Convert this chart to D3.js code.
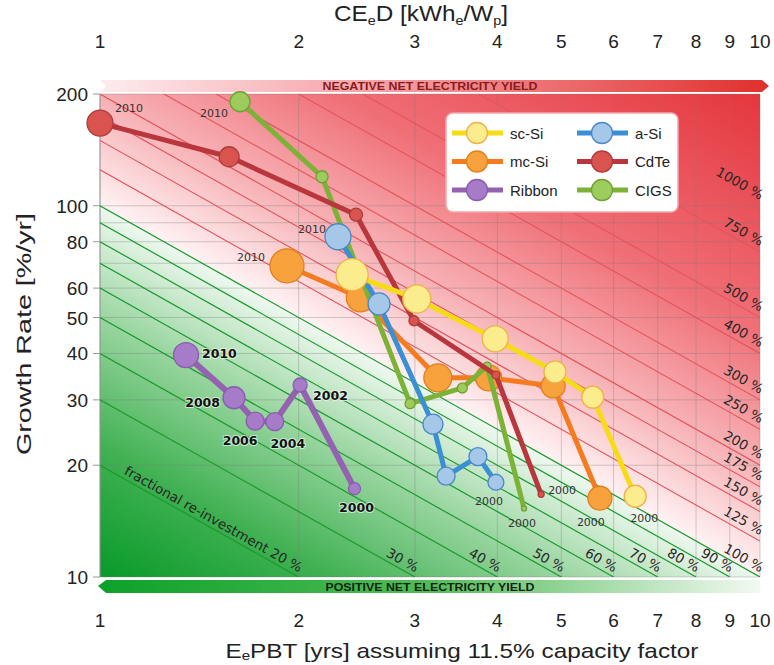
<!DOCTYPE html>
<html><head><meta charset="utf-8">
<script src="https://cdn.jsdelivr.net/npm/d3@7"></script>
<style>
body{margin:0;background:#fff}
svg{display:block}
text{font-family:"Liberation Sans",Arial,sans-serif}
text.dj{font-family:"DejaVu Sans",sans-serif}
</style>
</head><body>
<svg id="c" width="774" height="665"></svg>
<script>
// ---------- data ----------
const xTicks = [1,2,3,4,5,6,7,8,9,10];
const yTicks = [10,20,30,40,50,60,80,100,200];
const yGrid  = [10,20,30,40,50,60,70,80,90,100,200];
const greenLevels = [20,30,40,50,60,70,80,90,100];
const redLevels = [125,150,175,200,250,300,400,500,750,1000];
const years = [2010,2008,2006,2004,2002,2000];

// EePBT [yrs], growth rate [%/yr], relative production weight (2010 -> 2000)
const scSiEPBT   = [2.41,3.02,3.97,4.89,5.58,6.47];
const scSiGrowth = [65.2,56.1,43.8,35.7,30.5,16.5];
const scSiWeight = [88.6,67.8,58.5,41.9,41.9,41.9];

const mcSiEPBT   = [1.92,2.48,3.25,3.88,4.86,5.72];
const mcSiGrowth = [68.9,56.5,34.4,34.4,32.7,16.3];
const mcSiWeight = [100,67.8,67.8,58.5,49.8,49.8];

const ribbonEPBT   = [1.35,1.596,1.718,1.84,2.01,2.43];
const ribbonGrowth = [39.6,30.4,26.3,26.2,32.9,17.3];
const ribbonWeight = [54,41.9,28,28,17,12.5];

const aSiEPBT   = [2.294,2.647,3.195,3.345,3.738,3.98];
const aSiGrowth = [82.5,54.4,25.8,18.7,21.1,18.0];
const aSiWeight = [58.5,41.9,34.6,28,28,22];

const cdteEPBT   = [1.0,1.569,2.443,2.99,3.98,4.66];
const cdteGrowth = [167,135.5,94.6,49,35,16.7];
const cdteWeight = [58.5,34.6,14.6,8.7,5.5,3.1];

const cigsEPBT   = [1.63,2.17,2.95,3.54,3.86,4.39];
const cigsGrowth = [190.6,119.7,29.3,32.3,37,15.3];
const cigsWeight = [34.6,12.5,8.7,8.7,5.5,2.2];

// ---------- styles ----------
const styles = {
  "sc-Si": {line:"#f6dc16", fill:"#fbec8e", stroke:"#f0b04a"},
  "mc-Si": {line:"#f47b20", fill:"#f7a23c", stroke:"#e07f1e"},
  "Ribbon":{line:"#9462b0", fill:"#a67cc8", stroke:"#8a5cae"},
  "a-Si":  {line:"#3b8fd4", fill:"#a5c7e8", stroke:"#4a88c8"},
  "CdTe":  {line:"#b8363c", fill:"#d9534f", stroke:"#b03a3a"},
  "CIGS":  {line:"#7cb236", fill:"#9dcb5c", stroke:"#6fa035"}
};
function build(name,E,G,Wt){ return {name, pts:E.map((e,i)=>({E:e,G:G[i],w:Wt[i],year:years[i]}))}; }
const series = {
  "sc-Si": build("sc-Si",scSiEPBT,scSiGrowth,scSiWeight),
  "mc-Si": build("mc-Si",mcSiEPBT,mcSiGrowth,mcSiWeight),
  "Ribbon":build("Ribbon",ribbonEPBT,ribbonGrowth,ribbonWeight),
  "a-Si":  build("a-Si",aSiEPBT,aSiGrowth,aSiWeight),
  "CdTe":  build("CdTe",cdteEPBT,cdteGrowth,cdteWeight),
  "CIGS":  build("CIGS",cigsEPBT,cigsGrowth,cigsWeight)
};
const drawOrder = ["mc-Si","CIGS","CdTe","a-Si","sc-Si","Ribbon"];

const svg = d3.select("#c");
const x = d3.scaleLog().domain([1,10]).range([100,760]);
const y = d3.scaleLog().domain([10,200]).range([577,94]);
const r = d3.scaleSqrt().domain([0,100]).range([0,17]);
const [X0,X1] = x.range(), [YB,YT] = y.range();
const defs = svg.append("defs");

defs.append("clipPath").attr("id","plotclip").append("rect")
  .attr("x",X0).attr("y",YT).attr("width",X1-X0).attr("height",YB-YT);

// 100% line geometry
const pA=[x(1),y(100)], pB=[x(10),y(10)];
const ddx=pB[0]-pA[0], ddy=pB[1]-pA[1], LL=Math.hypot(ddx,ddy);
const nx=ddy/LL, ny=-ddx/LL;
const angle = Math.atan2(ddy,ddx)*180/Math.PI;
function foot(p){const t=(p[0]-pA[0])*nx+(p[1]-pA[1])*ny; return [p[0]-t*nx,p[1]-t*ny];}

const gg = foot([X0,YB]);
const gGrad = defs.append("linearGradient").attr("id","gGrad").attr("gradientUnits","userSpaceOnUse")
  .attr("x1",X0).attr("y1",YB).attr("x2",gg[0]).attr("y2",gg[1]);
[[0,"#089a28"],[0.35,"#40b152"],[0.7,"#98d59f"],[1,"#eef8ef"]].forEach(s=>gGrad.append("stop").attr("offset",s[0]).attr("stop-color",s[1]));
const rg = foot([X1,YT]);
const rGrad = defs.append("linearGradient").attr("id","rGrad").attr("gradientUnits","userSpaceOnUse")
  .attr("x1",rg[0]).attr("y1",rg[1]).attr("x2",X1).attr("y2",YT);
[[0,"#fff3f4"],[0.22,"#f7b3b7"],[0.5,"#f07078"],[1,"#e5363d"]].forEach(s=>rGrad.append("stop").attr("offset",s[0]).attr("stop-color",s[1]));

svg.append("path").attr("d",`M${X0},${YT}L${X1},${YT}L${X1},${YB}L${pA[0]},${pA[1]}Z`).attr("fill","url(#rGrad)");
svg.append("path").attr("d",`M${pA[0]},${pA[1]}L${pB[0]},${pB[1]}L${X0},${YB}Z`).attr("fill","url(#gGrad)");

// grid
const grid = svg.append("g").attr("stroke","#7a7a7a").attr("stroke-opacity",0.35).attr("stroke-width",1);
xTicks.forEach(v=>grid.append("line").attr("x1",x(v)).attr("x2",x(v)).attr("y1",YT).attr("y2",YB));
yGrid.forEach(v=>grid.append("line").attr("x1",X0).attr("x2",X1).attr("y1",y(v)).attr("y2",y(v)));
svg.append("line").attr("x1",X0).attr("x2",X0).attr("y1",YT).attr("y2",YB).attr("stroke","#9a9a9a").attr("stroke-width",1);
const tk = svg.append("g").attr("stroke","#999");
yTicks.forEach(v=>tk.append("line").attr("x1",X0-7).attr("x2",X0).attr("y1",y(v)).attr("y2",y(v)));

// iso re-investment lines
const lineGen = d3.line().x(d=>x(d[0])).y(d=>y(d[1]));
const iso = svg.append("g").attr("clip-path","url(#plotclip)").attr("fill","none");
function isoPts(f){const e0=Math.max(1,f/200), e1=Math.min(10,f/10); return [[e0,f/e0],[e1,f/e1]];}
greenLevels.forEach(f=>iso.append("path").attr("d",lineGen(isoPts(f))).attr("stroke","#1a9a2c").attr("stroke-width",1.2));
redLevels.forEach(f=>iso.append("path").attr("d",lineGen(isoPts(f))).attr("stroke","#e4545c").attr("stroke-width",1.1));

// iso labels
const lab = svg.append("g");
function diagLabel(E,G,txt,ox,oy){
  lab.append("text").attr("class","dj").attr("font-size",13.5).attr("fill","#262626")
    .attr("transform",`translate(${x(E)},${y(G)}) rotate(${angle})`)
    .attr("x",ox).attr("y",oy).attr("text-anchor","end").text(txt);
}
greenLevels.forEach(f=>{
  const txt = f===20 ? "fractional re-investment 20 %" : f+" %";
  diagLabel(f/10,10,txt,-2,-4);
});
redLevels.forEach(f=>diagLabel(10,f/10,f+" %",-3,-5));

// banners
const tG = defs.append("linearGradient").attr("id","tG");
[[0,"#fdecee"],[0.45,"#f59aa0"],[1,"#e0302c"]].forEach(s=>tG.append("stop").attr("offset",s[0]).attr("stop-color",s[1]));
const bG = defs.append("linearGradient").attr("id","bG");
[[0,"#0ca12a"],[0.5,"#52bb58"],[1,"#f2f9f2"]].forEach(s=>bG.append("stop").attr("offset",s[0]).attr("stop-color",s[1]));
svg.append("path").attr("d",`M${X0},80L${X1+2},80L${X1+9},86L${X1+2},92L${X0},92L${X0+6},86Z`).attr("fill","url(#tG)");
svg.append("path").attr("d",`M${X0-2},586L${X0+6},580L${X1},580L${X1},593L${X0+6},593Z`).attr("fill","url(#bG)");
svg.append("text").attr("x",430).attr("y",90).attr("text-anchor","middle").attr("font-weight","bold")
  .attr("font-size",11).attr("fill","#8a1a1c").attr("textLength",215).attr("lengthAdjust","spacingAndGlyphs")
  .text("NEGATIVE NET ELECTRICITY YIELD");
svg.append("text").attr("x",430).attr("y",591).attr("text-anchor","middle").attr("font-weight","bold")
  .attr("font-size",11).attr("fill","#142414").attr("textLength",209).attr("lengthAdjust","spacingAndGlyphs")
  .text("POSITIVE NET ELECTRICITY YIELD");

// axes tick labels
const ax = svg.append("g").attr("font-size",19).attr("fill","#222");
xTicks.forEach(v=>{
  ax.append("text").attr("x",x(v)).attr("y",48).attr("text-anchor","middle").text(v);
  ax.append("text").attr("x",x(v)).attr("y",627).attr("text-anchor","middle").text(v);
});
yTicks.forEach(v=>ax.append("text").attr("x",88).attr("y",y(v)+7).attr("text-anchor","end").text(v));

// titles
const t1 = svg.append("text").attr("x",421).attr("y",21).attr("text-anchor","middle").attr("font-size",22).attr("fill","#222")
  .attr("textLength",174).attr("lengthAdjust","spacingAndGlyphs");
t1.append("tspan").text("CE");
t1.append("tspan").attr("font-size",13).attr("dy",4).text("e");
t1.append("tspan").attr("dy",-4).text("D [kWh");
t1.append("tspan").attr("font-size",13).attr("dy",4).text("e");
t1.append("tspan").attr("dy",-4).text("/W");
t1.append("tspan").attr("font-size",13).attr("dy",4).text("p");
t1.append("tspan").attr("dy",-4).text("]");

const t2 = svg.append("text").attr("x",462).attr("y",658).attr("text-anchor","middle").attr("font-size",21).attr("fill","#222")
  .attr("textLength",473).attr("lengthAdjust","spacingAndGlyphs");
t2.append("tspan").text("E");
t2.append("tspan").attr("font-size",13).attr("dy",2).text("e");
t2.append("tspan").attr("dy",-2).text("PBT [yrs] assuming 11.5% capacity factor");

svg.append("text").attr("transform","translate(31,334) rotate(-90)").attr("text-anchor","middle")
  .attr("font-size",21).attr("fill","#222").attr("textLength",242).attr("lengthAdjust","spacingAndGlyphs")
  .text("Growth Rate [%/yr]");

// data series
const dataG = svg.append("g");
const lineXY = d3.line().x(d=>x(d.E)).y(d=>y(d.G));
drawOrder.forEach(n=>{
  const s=series[n], st=styles[n];
  const g=dataG.append("g");
  g.append("path").attr("d",lineXY(s.pts)).attr("fill","none").attr("stroke",st.line)
    .attr("stroke-width",n==="Ribbon"?6:5).attr("stroke-linejoin","round");
  g.selectAll("circle").data(s.pts).join("circle")
    .attr("cx",d=>x(d.E)).attr("cy",d=>y(d.G)).attr("r",d=>r(d.w))
    .attr("fill",st.fill).attr("stroke",st.stroke).attr("stroke-width",1.3);
});

// year labels (offsets from the marker)
const yearLabelOffsets = {
  "CdTe":  {2010:[15,-11,"start"],2000:[7,0,"start"]},
  "CIGS":  {2010:[-12,15,"end"],2000:[-2,19,"middle"]},
  "a-Si":  {2010:[-12,-4,"end"],2000:[-7,23,"middle"]},
  "mc-Si": {2010:[-22,-5,"end"],2000:[-9,28,"middle"]},
  "sc-Si": {2000:[9,26,"middle"]},
  "Ribbon":{2010:[16,3,"start"],2008:[-14,9,"end"],2006:[-15,24,"middle"],2004:[13,26,"middle"],2002:[13,15,"start"],2000:[2,23,"middle"]}
};
const yl = svg.append("g");
Object.keys(yearLabelOffsets).forEach(n=>{
  const offs = yearLabelOffsets[n];
  series[n].pts.forEach(p=>{
    const o = offs[p.year]; if(!o) return;
    const t = yl.append("text").attr("class","dj").attr("x",x(p.E)+o[0]).attr("y",y(p.G)+o[1]).attr("text-anchor",o[2]).text(p.year);
    if(n==="Ribbon"){
      t.attr("font-size",12.5).attr("font-weight","bold").attr("fill","#111")
       .attr("stroke","rgba(255,255,255,0.6)").attr("stroke-width",2).attr("paint-order","stroke");
    } else {
      t.attr("font-size",11).attr("fill","#333");
    }
  });
});

// legend
const lg = svg.append("g");
lg.append("rect").attr("x",446).attr("y",113).attr("width",232).attr("height",99).attr("rx",7)
  .attr("fill","#fff").attr("stroke","#f2a8ac").attr("stroke-width",1.5);
const legendLayout = [["sc-Si","a-Si"],["mc-Si","CdTe"],["Ribbon","CIGS"]];
legendLayout.forEach((row,ri)=>row.forEach((n,ci)=>{
  const st=styles[n];
  const lx = ci===0?452:577, ly = 133+ri*28.5;
  lg.append("line").attr("x1",lx).attr("x2",lx+51).attr("y1",ly).attr("y2",ly).attr("stroke",st.line).attr("stroke-width",5);
  lg.append("circle").attr("cx",lx+25).attr("cy",ly).attr("r",10.5).attr("fill",st.fill).attr("stroke",st.stroke).attr("stroke-width",1.3);
  lg.append("text").attr("x",lx+58).attr("y",ly+5.5).attr("font-size",15).attr("fill","#222").text(n);
}));
</script>
</body></html>
